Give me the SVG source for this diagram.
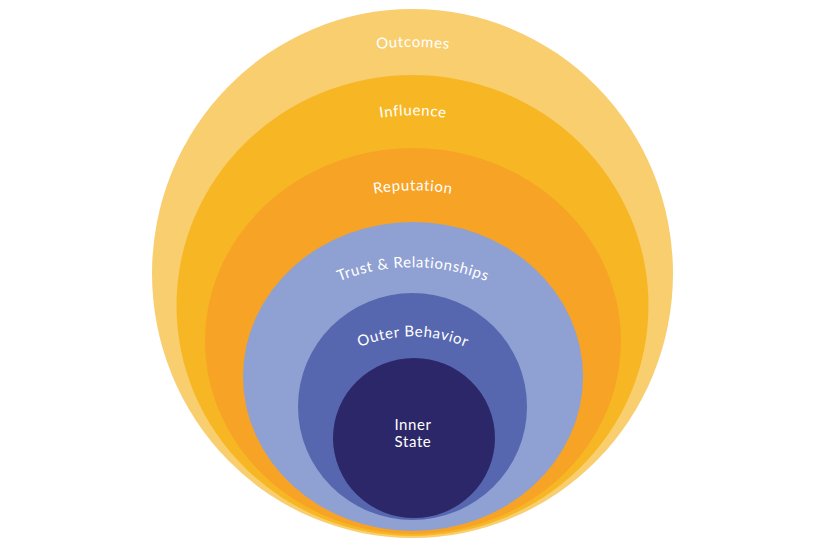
<svg xmlns="http://www.w3.org/2000/svg" width="834" height="546" viewBox="0 0 834 546">
<style>
.lbl{font-family:"Lato","Open Sans","Liberation Sans",sans-serif;font-size:15px;fill:#ffffff;letter-spacing:0.6px}
</style>
<defs>
<path id="pOut" d="M 293 72 A 300 300 0 0 1 533 72"/>
<path id="pInf" d="M 293 151 A 220 220 0 0 1 533 151"/>
<path id="pRep" d="M 293 226 A 220 220 0 0 1 533 226"/>
<path id="pTrust" d="M 313 294 A 200 200 0 0 1 513 294"/>
<path id="pBeh" d="M 333 362 A 138 138 0 0 1 493 362"/>
</defs>
<rect width="834" height="546" fill="#ffffff"/>
<g id="outcomes">
<ellipse cx="412.5" cy="273.5" rx="260.5" ry="264.5" fill="#F8CE6F"/>
<text class="lbl"><textPath href="#pOut" startOffset="50%" text-anchor="middle">Outcomes</textPath></text>
</g>
<g id="influence">
<ellipse cx="412.5" cy="305.5" rx="236" ry="230.5" fill="#F7B725"/>
<text class="lbl"><textPath href="#pInf" startOffset="50%" text-anchor="middle">Influence</textPath></text>
</g>
<g id="reputation">
<ellipse cx="413" cy="341" rx="208" ry="193" fill="#F7A325"/>
<text class="lbl"><textPath href="#pRep" startOffset="50%" text-anchor="middle">Reputation</textPath></text>
</g>
<g id="trust">
<ellipse cx="413" cy="376.5" rx="170" ry="154.5" fill="#8FA0D3"/>
<text class="lbl"><textPath href="#pTrust" startOffset="50%" text-anchor="middle">Trust &amp; Relationships</textPath></text>
</g>
<g id="outer-behavior">
<ellipse cx="412.5" cy="406.5" rx="114.5" ry="113.5" fill="#5667B0"/>
<text class="lbl"><textPath href="#pBeh" startOffset="50%" text-anchor="middle">Outer Behavior</textPath></text>
</g>
<g id="inner-state">
<ellipse cx="414" cy="438" rx="81" ry="80" fill="#2C2768"/>
<text class="lbl" x="413" y="430" text-anchor="middle" letter-spacing="0.3">Inner</text>
<text class="lbl" x="413" y="447" text-anchor="middle" letter-spacing="0.3">State</text>
</g>
<g id="connectors"></g>
</svg>
